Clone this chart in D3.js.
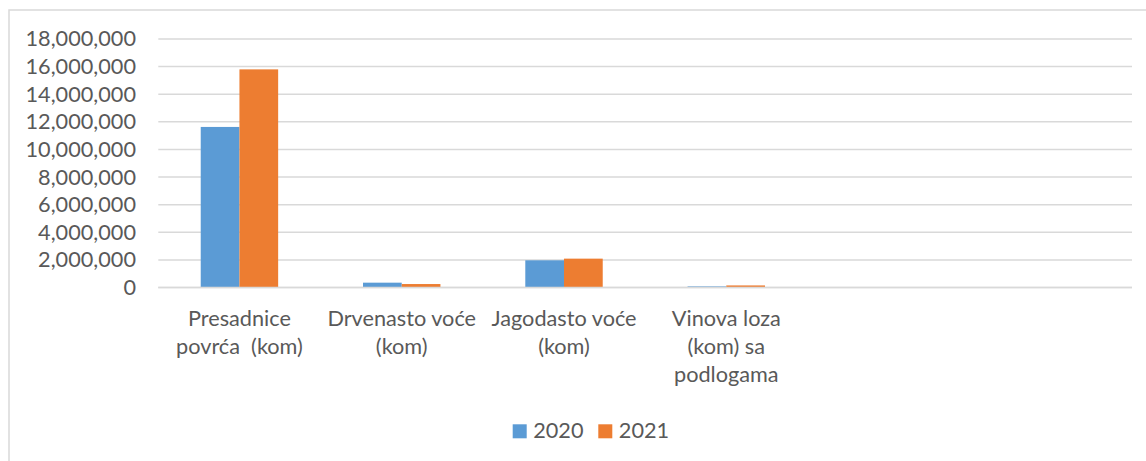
<!DOCTYPE html>
<html>
<head>
<meta charset="utf-8">
<script src="https://cdn.jsdelivr.net/npm/d3@7"></script>
<style>
  body { margin: 0; background: #fff; }
  text { font-family: "Lato", "Liberation Sans", sans-serif; fill: #595959; }
</style>
</head>
<body>
<svg width="1146" height="461"></svg>
<script>
// kategorije (prazna mjesta na kraju kao u originalu)
const categories = [
    ["Presadnice", "povrća  (kom)"],
    ["Drvenasto voće", "(kom)"],
    ["Jagodasto voće", "(kom)"],
    ["Vinova loza", "(kom) sa", "podlogama"],
    [],
    []
];
const years = ["2020", "2021"];
const values2020 = [11630000, 350000, 1970000, 80000];
const values2021 = [15800000, 250000, 2090000, 150000];
const yTicks = [0, 2000000, 4000000, 6000000, 8000000, 10000000, 12000000, 14000000, 16000000, 18000000];
const colors = ["#5B9BD5", "#ED7D31"];

const svg = d3.select("svg");
const fs = 21.7;

// okvir grafikona
svg.append("rect")
    .attr("x", 9).attr("y", 10)
    .attr("width", 1150).attr("height", 460)
    .attr("fill", "none")
    .attr("stroke", "#d9d9d9")
    .attr("stroke-width", 1.5);

const slots = d3.range(categories.length);
const x = d3.scaleBand().domain(slots).range([158.3, 1132]).paddingInner(0).paddingOuter(0);
const xs = d3.scaleBand().domain(years).range([0, x.bandwidth()]).paddingInner(0).paddingOuter(1.096);
const y = d3.scaleLinear().domain([0, 18000000]).range([287.5, 39]);

// mreža
svg.append("g")
    .selectAll("line")
    .data(yTicks)
    .join("line")
    .attr("x1", 158.3).attr("x2", 1132)
    .attr("y1", d => y(d)).attr("y2", d => y(d))
    .attr("stroke", "#d9d9d9")
    .attr("stroke-width", 1.5);

// y osa
const yAxis = svg.append("g")
    .attr("transform", "translate(136,0)")
    .call(d3.axisLeft(y).tickValues(yTicks).tickFormat(d3.format(",")).tickSize(0).tickPadding(0));
yAxis.select(".domain").remove();
yAxis.selectAll("text")
    .attr("font-size", fs)
    .attr("font-family", null)
    .attr("fill", "#595959");

// stupci
const series = [values2020, values2021];
const data = [];
series.forEach((vals, si) => {
    vals.forEach((v, i) => data.push({cat: i, year: years[si], value: v, color: colors[si]}));
});
svg.append("g")
    .selectAll("rect")
    .data(data)
    .join("rect")
    .attr("x", d => x(d.cat) + xs(d.year))
    .attr("width", xs.bandwidth())
    .attr("y", d => y(d.value))
    .attr("height", d => y(0) - y(d.value))
    .attr("fill", d => d.color);

// nulta linija preko stupaca
svg.append("line")
    .attr("x1", 158.3).attr("x2", 1132)
    .attr("y1", y(0)).attr("y2", y(0))
    .attr("stroke", "#d9d9d9")
    .attr("stroke-width", 1.5);

// oznake kategorija
const labels = svg.append("g")
    .selectAll("text")
    .data(slots)
    .join("text")
    .attr("text-anchor", "middle")
    .attr("font-size", fs)
    .attr("transform", d => `translate(${x(d) + x.bandwidth() / 2},326)`);
labels.selectAll("tspan")
    .data(d => categories[d])
    .join("tspan")
    .attr("x", 0)
    .attr("y", (d, i) => i * 27.8)
    .style("white-space", "pre")
    .text(d => d);

// legenda
const legendX = [512.7, 598.3];
const legend = svg.append("g")
    .selectAll("g")
    .data(years)
    .join("g")
    .attr("transform", (d, i) => `translate(${legendX[i]},424.3)`);
legend.append("rect")
    .attr("width", 14).attr("height", 14)
    .attr("fill", (d, i) => colors[i]);
legend.append("text")
    .attr("x", 20.5).attr("y", 14)
    .attr("font-size", fs)
    .text(d => d);
</script>
</body>
</html>
